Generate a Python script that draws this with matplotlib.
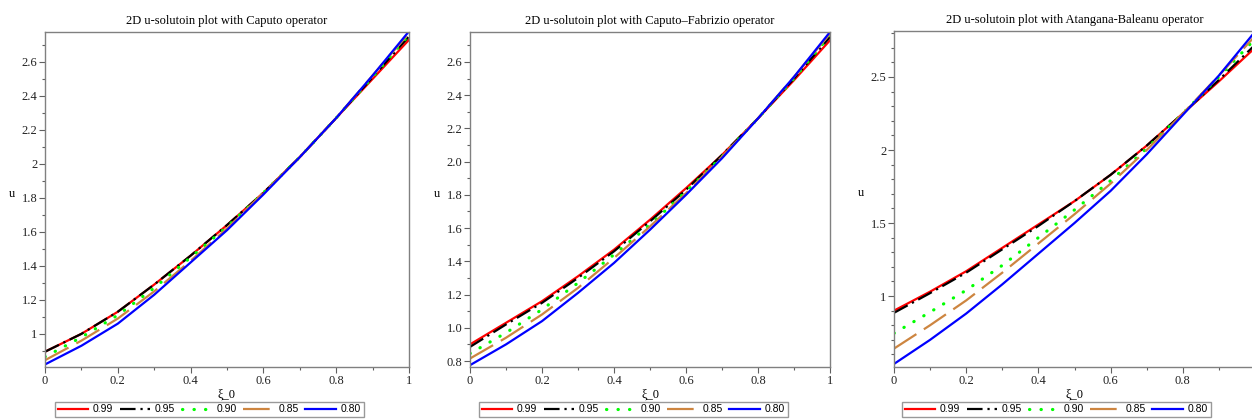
import matplotlib.pyplot as plt
from matplotlib.ticker import MultipleLocator, FixedLocator

# values, xi_0 = 0, 0.1, ..., 1
xi = [0.0, 0.1, 0.2, 0.3, 0.4, 0.5, 0.6, 0.7, 0.8, 0.9, 1.0]
orders = ["0.99", "0.95", "0.90", "0.85", "0.80"]

caputo = [
    [0.895, 1.00, 1.13, 1.29, 1.46, 1.64, 1.83, 2.04, 2.27, 2.50, 2.73],
    [0.895, 1.00, 1.13, 1.29, 1.46, 1.64, 1.83, 2.04, 2.27, 2.51, 2.75],
    [0.865, 0.98, 1.11, 1.27, 1.45, 1.63, 1.83, 2.04, 2.27, 2.51, 2.76],
    [0.845, 0.96, 1.09, 1.25, 1.43, 1.62, 1.83, 2.04, 2.27, 2.52, 2.77],
    [0.820, 0.93, 1.06, 1.23, 1.42, 1.61, 1.82, 2.04, 2.27, 2.52, 2.78],
]
caputo_fabrizio = [
    [0.900, 1.03, 1.16, 1.31, 1.47, 1.65, 1.84, 2.04, 2.26, 2.49, 2.73],
    [0.885, 1.02, 1.15, 1.30, 1.46, 1.64, 1.83, 2.04, 2.26, 2.50, 2.75],
    [0.845, 0.97, 1.11, 1.27, 1.44, 1.62, 1.82, 2.03, 2.26, 2.50, 2.76],
    [0.815, 0.94, 1.08, 1.24, 1.42, 1.61, 1.81, 2.03, 2.26, 2.51, 2.77],
    [0.775, 0.90, 1.04, 1.21, 1.39, 1.59, 1.80, 2.02, 2.26, 2.51, 2.78],
]
atangana_baleanu = [
    [0.900, 1.03, 1.17, 1.33, 1.49, 1.65, 1.83, 2.03, 2.25, 2.47, 2.70],
    [0.885, 1.02, 1.16, 1.32, 1.48, 1.65, 1.83, 2.03, 2.25, 2.48, 2.72],
    [0.745, 0.89, 1.04, 1.21, 1.40, 1.59, 1.79, 2.01, 2.25, 2.50, 2.76],
    [0.640, 0.80, 0.97, 1.16, 1.36, 1.56, 1.77, 2.00, 2.25, 2.51, 2.78],
    [0.535, 0.70, 0.88, 1.08, 1.29, 1.50, 1.72, 1.97, 2.24, 2.51, 2.81],
]

titles = [
    "2D u-solutoin plot with Caputo operator",
    "2D u-solutoin plot with Caputo\u2013Fabrizio operator",
    "2D u-solutoin plot with Atangana-Baleanu operator",
]

styles = [
    dict(color="#ff0000", linestyle="-", lw=1.6),
    dict(color="#000000", linestyle=(0, (7, 2.2, 1, 2.2)), lw=1.6),
    dict(color="#00ff00", linestyle=(0, (0.1, 3.5)), dash_capstyle="round", lw=2.3),
    dict(color="#cd8540", linestyle=(0, (12, 4)), lw=1.6),
    dict(color="#0000ff", linestyle="-", lw=1.6),
]

W, H = 1252, 419
# axes boxes in pixels: left, right, top, bottom
boxes = [(45, 409, 32, 367), (470, 830, 32, 367), (894, 1255, 31, 367)]
legend_x = [55, 479, 902]
ylims = [(0.805, 2.776), (0.764, 2.78), (0.514, 2.815)]

serif = "Liberation Serif"


def panel(fig, i, data):
    l, r, t, b = boxes[i]
    ax = fig.add_axes([l / W, (H - b) / H, (r - l) / W, (b - t) / H])
    lines = []
    for ys, st in zip(data, styles):
        (ln,) = ax.plot(xi, ys, **st)
        lines.append(ln)

    ax.set_xlim(0, 1)
    ax.set_ylim(*ylims[i])
    ax.xaxis.set_major_locator(FixedLocator([0, 0.2, 0.4, 0.6, 0.8, 1]))
    ax.xaxis.set_minor_locator(MultipleLocator(0.1))
    xlabels = ["0", "0.2", "0.4", "0.6", "0.8", "1"]
    if i == 2:
        # the last label falls off the right edge of the picture
        xlabels[-1] = ""
    ax.set_xticklabels(xlabels)

    if i == 0:
        yt = [1, 1.2, 1.4, 1.6, 1.8, 2, 2.2, 2.4, 2.6]
        ylabels = ["1", "1.2", "1.4", "1.6", "1.8", "2", "2.2", "2.4", "2.6"]
    elif i == 1:
        yt = [0.8, 1.0, 1.2, 1.4, 1.6, 1.8, 2.0, 2.2, 2.4, 2.6]
        ylabels = [f"{v:.1f}" for v in yt]
    else:
        yt = [1, 1.5, 2, 2.5]
        ylabels = ["1", "1.5", "2", "2.5"]
    ax.yaxis.set_major_locator(FixedLocator(yt))
    ax.set_yticklabels(ylabels)
    ax.yaxis.set_minor_locator(MultipleLocator(0.1))

    for s in ax.spines.values():
        s.set_color("#808080")
        s.set_linewidth(1.0)
    ax.tick_params(which="both", direction="out", color="#606060",
                   top=False, right=False)
    ax.tick_params(which="major", length=4, width=0.8, labelsize=9,
                   labelcolor="#222222", pad=1.5)
    ax.tick_params(which="minor", length=2.5, width=0.8)
    for lab in ax.get_xticklabels() + ax.get_yticklabels():
        lab.set_fontfamily(serif)

    ax.set_title(titles[i], fontsize=9, family=serif, pad=6)
    ax.set_xlabel("\u03be_0", fontsize=9, family=serif, labelpad=1.5)
    ax.set_ylabel("u", fontsize=9, family=serif, rotation=0)
    ax.yaxis.set_label_coords(-33 / (r - l), 0.5)

    fig.legend(
        lines, orders, loc="lower left",
        bbox_to_anchor=(legend_x[i] / W, 2 / H),
        ncol=5, frameon=True, fancybox=False,
        edgecolor="#808080", borderpad=0.25, handlelength=2.9,
        handletextpad=0.5, columnspacing=0.6, borderaxespad=0,
        prop={"family": "Liberation Sans", "size": 7.5},
    )
    return ax


def main():
    fig = plt.figure(figsize=(W / 100, H / 100), dpi=100)
    for i, d in enumerate([caputo, caputo_fabrizio, atangana_baleanu]):
        panel(fig, i, d)
    fig.savefig("out.png", dpi=100)


if __name__ == "__main__":
    main()
